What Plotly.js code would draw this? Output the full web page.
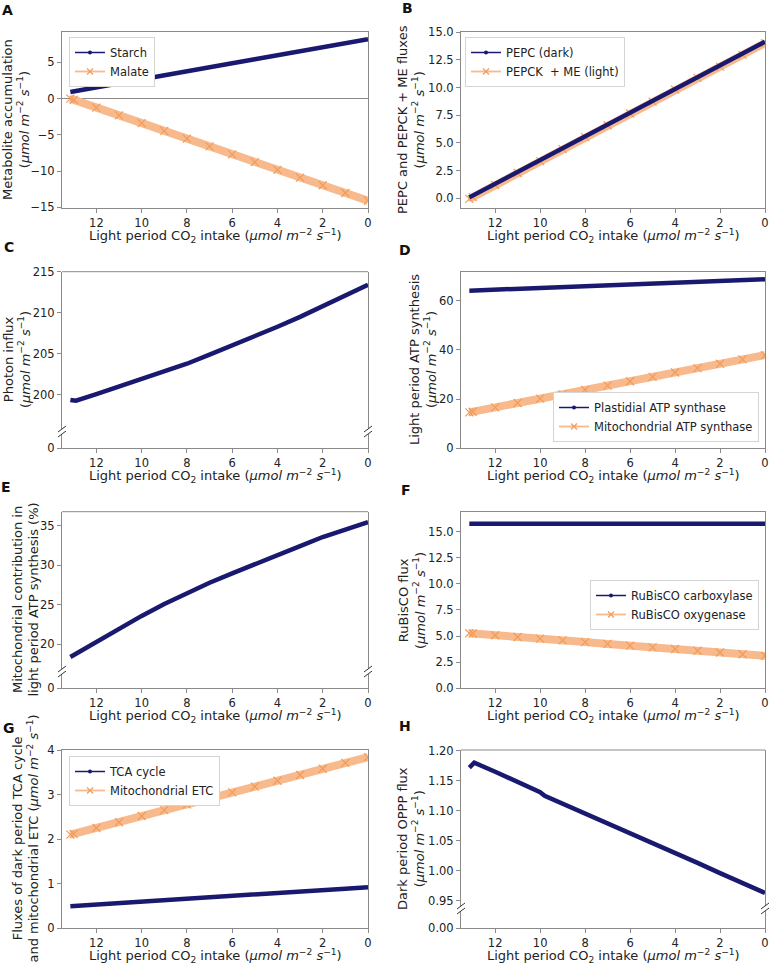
<!DOCTYPE html>
<html><head><meta charset="utf-8">
<script src="https://cdn.plot.ly/plotly-3.0.1.min.js"></script>
<style>html,body{margin:0;padding:0;background:#fff}#chart{width:770px;height:964px}</style>
</head><body><div id="chart"></div>
<script>
// ---------------- data ----------------
const xTicks = [12, 10, 8, 6, 4, 2, 0];
const xLight = [13.15, 13, 12, 11, 10, 9, 8, 7, 6, 5, 4, 3, 2, 1, 0];

// A
const starch = [0.92, 1.00, 1.56, 2.12, 2.68, 3.22, 3.78, 4.33, 4.88, 5.44, 5.99, 6.55, 7.10, 7.65, 8.20];
const malate = [0.00, -0.16, -1.24, -2.31, -3.38, -4.45, -5.52, -6.60, -7.70, -8.76, -9.83, -10.90, -11.96, -13.03, -14.10];
// B
const pepcDark = [0.08, 0.24, 1.34, 2.42, 3.50, 4.58, 5.66, 6.74, 7.80, 8.88, 9.96, 11.03, 12.02, 13.08, 14.15];
const pepckMeLight = [-0.06, 0.10, 1.20, 2.28, 3.36, 4.44, 5.52, 6.60, 7.66, 8.74, 9.82, 10.89, 11.90, 12.96, 14.03];
// C
const xPhoton = [13.15, 12.9, 12, 11, 10, 9, 8, 7, 6, 5, 4, 3, 2, 1, 0];
const photonInflux = [199.4, 199.3, 200.1, 201.0, 202.0, 202.9, 203.8, 204.9, 206.0, 207.1, 208.3, 209.5, 210.85, 212.1, 213.4];
// D
const plastidialATP = [64.1, 64.15, 64.5, 64.85, 65.2, 65.55, 65.9, 66.25, 66.6, 66.95, 67.3, 67.65, 68.0, 68.35, 68.7];
const mitoATP = [14.6, 14.87, 16.64, 18.41, 20.18, 21.95, 23.73, 25.5, 27.27, 29.04, 30.81, 32.58, 34.36, 36.13, 37.9];
// E
const mitoContribution = [18.4, 18.65, 20.25, 21.95, 23.6, 25.1, 26.5, 27.8, 29.0, 30.2, 31.3, 32.45, 33.6, 34.6, 35.5];
// F
const rubiscoCarboxylase = [15.75, 15.75, 15.75, 15.74, 15.74, 15.74, 15.74, 15.74, 15.74, 15.74, 15.74, 15.74, 15.74, 15.75, 15.75];
const rubiscoOxygenase = [5.27, 5.24, 5.08, 4.91, 4.75, 4.58, 4.42, 4.25, 4.09, 3.92, 3.76, 3.59, 3.43, 3.26, 3.10];
// G
const tcaCycle = [0.495, 0.50, 0.53, 0.57, 0.60, 0.63, 0.66, 0.70, 0.73, 0.76, 0.79, 0.83, 0.86, 0.89, 0.92];
const mitoETC = [2.10, 2.12, 2.25, 2.38, 2.52, 2.65, 2.78, 2.91, 3.05, 3.18, 3.31, 3.44, 3.58, 3.71, 3.84];
// H
const xOPPP = [13.15, 12.93, 12, 11, 10, 9.8, 9, 8, 7, 6, 5, 4, 3, 2, 1, 0];
const opppFlux = [1.172, 1.180, 1.165, 1.148, 1.131, 1.125, 1.112, 1.096, 1.079, 1.062, 1.046, 1.029, 1.013, 0.996, 0.980, 0.963];

// ---------------- styling / layout helpers ----------------
const W = 770, H = 964;
const px = v => v / W;
const py = v => 1 - v / H;
const NAVY = '#191970';
const ORANGE_BAND = '#f8b98c';
const ORANGE_X = '#f19c5a';
const GRAY = '#8a8a8a';
const FONT = 'DejaVu Sans';
const TICK_FONT = {family: FONT, size: 11.5, color: '#222'};
const unit = '(<i>μmol m</i><sup>−2</sup> <i>s</i><sup>−1</sup>)';

const cols = [[62, 368], [461, 765]];
const rows = [[32, 208], [271.7, 448.3], [511.7, 688.3], [750, 928.3]];

const traces = [];
function navyLine(x, y, xa, ya) {
  traces.push({x, y, xaxis: xa, yaxis: ya, type: 'scatter', mode: 'lines',
    line: {color: NAVY, width: 4.5}, showlegend: false, hoverinfo: 'skip'});
}
function orangeLine(x, y, xa, ya) {
  traces.push({x, y, xaxis: xa, yaxis: ya, type: 'scatter', mode: 'lines+markers',
    line: {color: ORANGE_BAND, width: 8},
    marker: {symbol: 'x-thin', size: 8, color: ORANGE_X, line: {color: ORANGE_X, width: 1.2}},
    showlegend: false, hoverinfo: 'skip'});
}
function proxy(name, kind, xa, ya, leg, rank) {
  const t = {x: [null], y: [null], xaxis: xa, yaxis: ya, type: 'scatter', mode: 'lines+markers',
    name, legend: leg, legendrank: rank, showlegend: true, hoverinfo: 'skip'};
  if (kind === 'navy') {
    t.line = {color: NAVY, width: 1.5};
    t.marker = {symbol: 'circle', size: 4, color: NAVY};
  } else {
    t.line = {color: ORANGE_BAND, width: 1.8};
    t.marker = {symbol: 'x-thin', size: 6, color: ORANGE_X, line: {color: ORANGE_X, width: 1.2}};
  }
  traces.push(t);
}
// empty trace so that the lower part of a broken axis gets its own subplot drawn
function lowerPart(xa, ya) {
  traces.push({x: [null], y: [null], xaxis: xa, yaxis: ya, type: 'scatter', mode: 'lines',
    showlegend: false, hoverinfo: 'skip'});
}

// A
orangeLine(xLight, malate, 'x', 'y');
navyLine(xLight, starch, 'x', 'y');
proxy('Starch', 'navy', 'x', 'y', 'legend', 1);
proxy('Malate', 'orange', 'x', 'y', 'legend', 2);
// B
orangeLine(xLight, pepckMeLight, 'x2', 'y2');
navyLine(xLight, pepcDark, 'x2', 'y2');
proxy('PEPC (dark)', 'navy', 'x2', 'y2', 'legend2', 1);
proxy('PEPCK  + ME (light)', 'orange', 'x2', 'y2', 'legend2', 2);
// C
navyLine(xPhoton, photonInflux, 'x3', 'y3');
lowerPart('x3', 'y9');
// D
navyLine(xLight, plastidialATP, 'x4', 'y4');
orangeLine(xLight, mitoATP, 'x4', 'y4');
proxy('Plastidial ATP synthase', 'navy', 'x4', 'y4', 'legend3', 1);
proxy('Mitochondrial ATP synthase', 'orange', 'x4', 'y4', 'legend3', 2);
// E
navyLine(xLight, mitoContribution, 'x5', 'y5');
lowerPart('x5', 'y10');
// F
navyLine(xLight, rubiscoCarboxylase, 'x6', 'y6');
orangeLine(xLight, rubiscoOxygenase, 'x6', 'y6');
proxy('RuBisCO carboxylase', 'navy', 'x6', 'y6', 'legend4', 1);
proxy('RuBisCO oxygenase', 'orange', 'x6', 'y6', 'legend4', 2);
// G
navyLine(xLight, tcaCycle, 'x7', 'y7');
orangeLine(xLight, mitoETC, 'x7', 'y7');
proxy('TCA cycle', 'navy', 'x7', 'y7', 'legend5', 1);
proxy('Mitochondrial ETC', 'orange', 'x7', 'y7', 'legend5', 2);
// H
navyLine(xOPPP, opppFlux, 'x8', 'y8');
lowerPart('x8', 'y11');

// ---------------- axes ----------------
const common = {showline: true, linecolor: GRAY, linewidth: 1, ticks: 'outside', ticklen: 4,
  tickcolor: GRAY, tickwidth: 1, showgrid: false, zeroline: false, tickfont: TICK_FONT, fixedrange: true};

const layout = {
  width: W, height: H, margin: {l: 0, r: 0, t: 0, b: 0},
  paper_bgcolor: '#fff', plot_bgcolor: '#fff',
  font: {family: FONT, size: 12, color: '#222'},
  showlegend: true, annotations: [], shapes: []
};

const panels = [
  ['x', 'y', 0, 0, null],
  ['x2', 'y2', 1, 0, null],
  ['x3', 'y3', 0, 1, {lower: 'y9', upperBottom: 429, lowerTop: 434}],
  ['x4', 'y4', 1, 1, null],
  ['x5', 'y5', 0, 2, {lower: 'y10', upperBottom: 669, lowerTop: 674}],
  ['x6', 'y6', 1, 2, null],
  ['x7', 'y7', 0, 3, null],
  ['x8', 'y8', 1, 3, {lower: 'y11', upperBottom: 906, lowerTop: 911}]
];
const yRanges = {
  y: {range: [-15.1, 9.2], tickvals: [-15, -10, -5, 0, 5], zeroline: true, zerolinecolor: GRAY, zerolinewidth: 1},
  y2: {range: [-0.88, 15.03], tickvals: [0, 2.5, 5, 7.5, 10, 12.5, 15], tickformat: '.1f'},
  y3: {range: [195.86, 215], tickvals: [200, 205, 210, 215]},
  y4: {range: [0, 71.8], tickvals: [0, 20, 40, 60]},
  y5: {range: [16.87, 36.81], tickvals: [20, 25, 30, 35]},
  y6: {range: [0, 16.9], tickvals: [0, 2.5, 5, 7.5, 10, 12.5, 15], tickformat: '.1f'},
  y7: {range: [0, 4.0], tickvals: [0, 1, 2, 3, 4]},
  y8: {range: [0.9412, 1.2012], tickvals: [0.95, 1.0, 1.05, 1.1, 1.15, 1.2], tickformat: '.2f'},
  y9: {range: [0, 1], tickvals: [0]},
  y10: {range: [0, 1], tickvals: [0]},
  y11: {range: [0, 1], tickvals: [0], tickformat: '.2f'}
};
const axKey = n => n.replace(/^x/, 'xaxis').replace(/^y/, 'yaxis');

panels.forEach(([xn, yn, c, r, br]) => {
  const [x0, x1] = cols[c];
  const [t, b] = rows[r];
  const xdom = [px(x0), px(x1)];
  layout[axKey(xn)] = Object.assign({}, common, {
    domain: xdom, range: [13.52, 0], tickvals: xTicks, ticklabelstandoff: 0,
    anchor: br ? br.lower : yn, mirror: br ? false : true
  });
  if (!br) {
    layout[axKey(yn)] = Object.assign({}, common, yRanges[yn], {domain: [py(b), py(t)], anchor: xn, mirror: true});
  } else {
    layout[axKey(yn)] = Object.assign({}, common, yRanges[yn], {domain: [py(br.upperBottom), py(t)], anchor: xn, mirror: true});
    layout[axKey(br.lower)] = Object.assign({}, common, yRanges[br.lower], {domain: [py(b), py(br.lowerTop)], anchor: xn, mirror: true});
    layout.shapes.push({type: 'line', xref: 'paper', yref: 'paper', x0: px(x0), x1: px(x1), y0: py(t), y1: py(t),
      line: {color: GRAY, width: 1}});
    [x0, x1].forEach(xx => {
      [br.upperBottom, br.lowerTop].forEach(yy => {
        layout.shapes.push({type: 'line', xref: 'paper', yref: 'paper',
          x0: px(xx - 4), y0: py(yy + 3), x1: px(xx + 4), y1: py(yy - 3),
          line: {color: '#333', width: 1}});
      });
    });
  }
  layout.annotations.push({xref: 'paper', yref: 'paper', x: px((x0 + x1) / 2), y: py(b + 28),
    xanchor: 'center', yanchor: 'middle', showarrow: false,
    text: 'Light period CO<sub>2</sub> intake ' + unit, font: {family: FONT, size: 13, color: '#222'}});
});

const yTitles = [
  ['Metabolite accumulation<br>' + unit, 16, 120],
  ['PEPC and PEPCK + ME fluxes<br>' + unit, 411, 120],
  ['Photon influx<br>' + unit, 17, 360],
  ['Light period ATP synthesis<br>' + unit, 423, 360],
  ['Mitochondrial contribution in<br>light period ATP synthesis (%)', 25.5, 600],
  ['RuBisCO flux<br>' + unit, 412, 600],
  ['Fluxes of dark period TCA cycle<br>and mitochondrial ETC ' + unit, 25.5, 839],
  ['Dark period OPPP flux<br>' + unit, 411, 839]
];
yTitles.forEach(([text, cx, cy]) => {
  layout.annotations.push({xref: 'paper', yref: 'paper', x: px(cx), y: py(cy), xanchor: 'center', yanchor: 'middle',
    textangle: -90, showarrow: false, text, font: {family: FONT, size: 13, color: '#222'}});
});

const letters = [['A', 7.5, 10], ['B', 407, 8], ['C', 9, 247], ['D', 405, 250],
  ['E', 6, 487], ['F', 406, 490], ['G', 9, 728], ['H', 405, 726]];
letters.forEach(([t, cx, cy]) => {
  layout.annotations.push({xref: 'paper', yref: 'paper', x: px(cx), y: py(cy), xanchor: 'center', yanchor: 'middle',
    showarrow: false, text: '<b>' + t + '</b>', font: {family: FONT, size: 14, color: '#111'}});
});

const legBase = {bgcolor: '#fff', bordercolor: '#d4d4d4', borderwidth: 1,
  font: {family: FONT, size: 11.5, color: '#222'}, itemwidth: 30, traceorder: 'normal'};
layout.legend = Object.assign({}, legBase, {x: px(69), y: py(37), xanchor: 'left', yanchor: 'top'});
layout.legend2 = Object.assign({}, legBase, {x: px(465), y: py(37), xanchor: 'left', yanchor: 'top'});
layout.legend3 = Object.assign({}, legBase, {x: px(759), y: py(442), xanchor: 'right', yanchor: 'bottom'});
layout.legend4 = Object.assign({}, legBase, {x: px(759), y: py(580), xanchor: 'right', yanchor: 'top'});
layout.legend5 = Object.assign({}, legBase, {x: px(69), y: py(756), xanchor: 'left', yanchor: 'top'});

Plotly.newPlot('chart', traces, layout, {displayModeBar: false, staticPlot: true});
</script>
</body></html>
